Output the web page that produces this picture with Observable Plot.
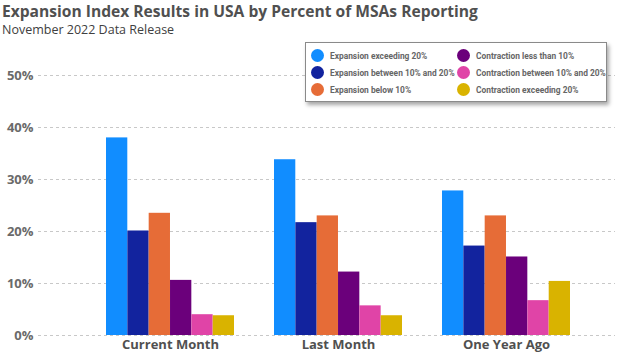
<!DOCTYPE html>
<html>
<head>
<meta charset="utf-8">
<script src="https://cdn.jsdelivr.net/npm/d3@7"></script>
<script src="https://cdn.jsdelivr.net/npm/@observablehq/plot@0.6"></script>
<style>
  html, body { margin: 0; padding: 0; background: #fff; }
  #wrap { position: relative; width: 624px; height: 357px; overflow: hidden; font-family: "Open Sans", sans-serif; }
  #title { position: absolute; left: 2px; top: 1px; font-size: 15.6px; font-weight: 700; color: #505050; white-space: nowrap; line-height: 20px; }
  #subtitle { position: absolute; left: 2px; top: 22px; font-size: 12.5px; color: #404040; white-space: nowrap; line-height: 16px; }
  #legend { position: absolute; left: 305px; top: 42px; width: 302px; height: 60px; background: #fff; border: 1px solid #8a8a8a; box-shadow: 2px 3px 4px rgba(0,0,0,0.35); box-sizing: border-box; }
  .item { position: absolute; display: flex; align-items: center; font-family: Roboto, sans-serif; font-size: 8.4px; font-weight: 700; color: #666; white-space: nowrap; }
  .dot { width: 13px; height: 13px; border-radius: 50%; margin-right: 6px; flex: none; }
  #chart { position: absolute; left: 0; top: 0; }
  g[aria-label^="x-axis"] text { font-size: 13px; fill: #505050; font-weight: 700; }
  g[aria-label^="y-axis"] text { font-size: 13px; fill: #6a6a6a; font-weight: 700; }
</style>
</head>
<body>
<div id="wrap">
  <div id="chart"></div>
  <div id="title">Expansion Index Results in USA by Percent of MSAs Reporting</div>
  <div id="subtitle">November 2022 Data Release</div>
  <div id="legend"></div>
</div>
<script>
const categories = ["Current Month", "Last Month", "One Year Ago"];
const seriesNames = [
  "Expansion exceeding 20%",
  "Expansion between 10% and 20%",
  "Expansion below 10%",
  "Contraction less than 10%",
  "Contraction between 10% and 20%",
  "Contraction exceeding 20%"
];
const seriesColors = ["#118DFF", "#12239E", "#E66C37", "#6B007B", "#E044A7", "#D9B300"];
// values per series, in category order
const expansionOver20 = [38.0, 33.8, 27.8];
const expansion10to20 = [20.1, 21.7, 17.2];
const expansionBelow10 = [23.5, 23.0, 23.0];
const contractionBelow10 = [10.6, 12.2, 15.1];
const contraction10to20 = [4.0, 5.7, 6.7];
const contractionOver20 = [3.8, 3.8, 10.4];
const yTicks = [0, 10, 20, 30, 40, 50];

const seriesValues = [expansionOver20, expansion10to20, expansionBelow10, contractionBelow10, contraction10to20, contractionOver20];

// Legend
const legend = document.getElementById("legend");
const legendPos = [[5, 6], [5, 23], [5, 40], [151, 6], [151, 23], [151, 40]];
seriesNames.forEach((name, i) => {
  const it = document.createElement("div");
  it.className = "item";
  it.style.left = legendPos[i][0] + "px";
  it.style.top = legendPos[i][1] + "px";
  it.innerHTML = `<span class="dot" style="background:${seriesColors[i]}"></span><span>${name}</span>`;
  legend.appendChild(it);
});

const bandStart = 105, bandEnd = 570;
const paddingInner = 0.24;
const step = (bandEnd - bandStart) / (categories.length - paddingInner);
const bandwidth = step * (1 - paddingInner);
const barW = bandwidth / seriesNames.length;

const barMarks = seriesValues.map((vals, i) =>
  Plot.barY(categories.map((c, j) => ({category: c, value: vals[j]})), {
    x: "category",
    y: "value",
    fill: seriesColors[i],
    insetLeft: i * barW,
    insetRight: (seriesNames.length - 1 - i) * barW
  })
);

const chart = Plot.plot({
  width: 624,
  height: 357,
  marginTop: 75,
  marginBottom: 22,
  marginLeft: 38,
  marginRight: 9,
  style: {fontFamily: "'Open Sans', sans-serif", background: "transparent"},
  x: {domain: categories, range: [bandStart, bandEnd], paddingInner, paddingOuter: 0, tickSize: 0, tickPadding: 4, label: null},
  y: {domain: [0, 50], ticks: yTicks, tickFormat: d => d + "%", tickSize: 0, tickPadding: 5, label: null},
  marks: [
    Plot.ruleY(yTicks, {stroke: "#c8c8c8", strokeDasharray: "3,3", strokeWidth: 1}),
    ...barMarks
  ]
});
document.getElementById("chart").appendChild(chart);
</script>
</body>
</html>
